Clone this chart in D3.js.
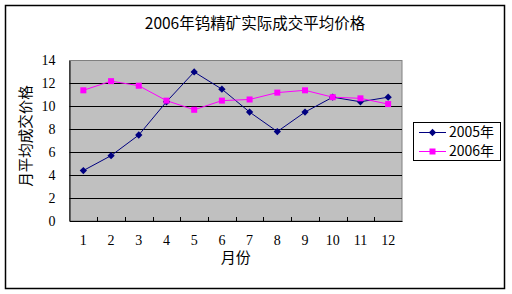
<!DOCTYPE html>
<html>
<head>
<meta charset="utf-8">
<script src="https://cdn.jsdelivr.net/npm/d3@7"></script>
<style>
  body { margin: 0; background: #fff; }
  text { font-family: "Noto Sans CJK SC", sans-serif; }
  .num { font-family: "Liberation Serif", serif; }
</style>
</head>
<body>
<svg id="chart" width="512" height="294"></svg>
<script>
// data
const months = [1, 2, 3, 4, 5, 6, 7, 8, 9, 10, 11, 12];
const y2005 = [4.4, 5.7, 7.5, 10.4, 13.0, 11.5, 9.5, 7.8, 9.5, 10.8, 10.4, 10.8];
const y2006 = [11.4, 12.2, 11.8, 10.5, 9.7, 10.5, 10.6, 11.2, 11.4, 10.8, 10.7, 10.2];
const yTicks = [0, 2, 4, 6, 8, 10, 12, 14];
const seriesNames = ["2005年", "2006年"];

const svg = d3.select("#chart");

// outer frame
svg.append("rect")
  .attr("x", 5.5).attr("y", 5.5)
  .attr("width", 499).attr("height", 283)
  .attr("fill", "#fff").attr("stroke", "#000").attr("stroke-width", 1.5);

// plot area
const pLeft = 69.5, pRight = 402, pTop = 60.5, pBottom = 221;

const x = d3.scaleBand().domain(months).range([pLeft, pRight]);
const y = d3.scaleLinear().domain([0, 14]).range([pBottom, pTop]);

svg.append("rect")
  .attr("x", pLeft).attr("y", pTop)
  .attr("width", pRight - pLeft).attr("height", pBottom - pTop)
  .attr("fill", "#c0c0c0").attr("stroke", "#808080");

// gridlines
svg.append("g")
  .selectAll("line")
  .data(yTicks.filter(d => d > 0 && d < 14))
  .enter().append("line")
  .attr("x1", pLeft).attr("x2", pRight)
  .attr("y1", d => Math.round(y(d)) + 0.5).attr("y2", d => Math.round(y(d)) + 0.5)
  .attr("stroke", "#000");

// y axis
const yAxis = svg.append("g")
  .attr("transform", `translate(${pLeft},0)`)
  .call(d3.axisLeft(y).tickValues(yTicks).tickSize(0).tickPadding(14));
yAxis.select(".domain").attr("stroke", "#000");
yAxis.selectAll("text").attr("class", "num").style("font-size", "14px").attr("fill", "#000");

// x axis: ticks at category boundaries pointing inward
const xAxis = svg.append("g")
  .attr("transform", `translate(0,${pBottom})`)
  .call(d3.axisBottom(x).tickSize(0).tickPadding(14));
xAxis.select(".domain").attr("stroke", "#000");
xAxis.selectAll("text").attr("class", "num").style("font-size", "14px").attr("fill", "#000");

svg.append("g")
  .selectAll("line")
  .data(months.slice(1))
  .enter().append("line")
  .attr("x1", d => Math.round(x(d)) + 0.5).attr("x2", d => Math.round(x(d)) + 0.5)
  .attr("y1", pBottom).attr("y2", pBottom - 4)
  .attr("stroke", "#000");

// title
svg.append("text")
  .attr("x", 255).attr("y", 29)
  .attr("text-anchor", "middle")
  .style("font-size", "15.5px")
  .text("2006年钨精矿实际成交平均价格");

// axis titles
svg.append("text")
  .attr("x", (pLeft + pRight) / 2).attr("y", 263)
  .attr("text-anchor", "middle")
  .style("font-size", "15px")
  .text("月份");

svg.append("text")
  .attr("transform", "translate(31,136) rotate(-90)")
  .attr("text-anchor", "middle")
  .style("font-size", "14.5px")
  .text("月平均成交价格");

// lines
const cx = d => x(d) + x.bandwidth() / 2;
const line = d3.line().x((d, i) => cx(months[i])).y(d => y(d));

svg.append("path").datum(y2005)
  .attr("d", line).attr("fill", "none").attr("stroke", "#000080").attr("stroke-width", 1);
svg.append("path").datum(y2006)
  .attr("d", line).attr("fill", "none").attr("stroke", "#ff00ff").attr("stroke-width", 1);

const diamond = d3.symbol().type(d3.symbolDiamond2).size(34);

svg.append("g").selectAll("path")
  .data(y2005).enter().append("path")
  .attr("d", diamond)
  .attr("transform", (d, i) => `translate(${cx(months[i])},${y(d)})`)
  .attr("fill", "#000080");

svg.append("g").selectAll("rect")
  .data(y2006).enter().append("rect")
  .attr("x", (d, i) => cx(months[i]) - 3).attr("y", d => y(d) - 3)
  .attr("width", 6).attr("height", 6)
  .attr("fill", "#ff00ff");

// legend
const lg = svg.append("g");
lg.append("rect")
  .attr("x", 413.5).attr("y", 122.5)
  .attr("width", 87).attr("height", 38)
  .attr("fill", "#fff").attr("stroke", "#000");

const colors = ["#000080", "#ff00ff"];
seriesNames.forEach((name, i) => {
  const ly = 132 + i * 19;
  lg.append("line")
    .attr("x1", 419).attr("x2", 446)
    .attr("y1", ly + 0.5).attr("y2", ly + 0.5)
    .attr("stroke", colors[i]);
  if (i === 0) {
    lg.append("path").attr("d", diamond)
      .attr("transform", `translate(432.5,${ly + 0.5})`)
      .attr("fill", colors[i]);
  } else {
    lg.append("rect").attr("x", 429.5).attr("y", ly - 2.5)
      .attr("width", 6).attr("height", 6).attr("fill", colors[i]);
  }
  lg.append("text")
    .attr("x", 449).attr("y", ly + 5)
    .style("font-size", "14px")
    .text(name);
});
</script>
</body>
</html>
